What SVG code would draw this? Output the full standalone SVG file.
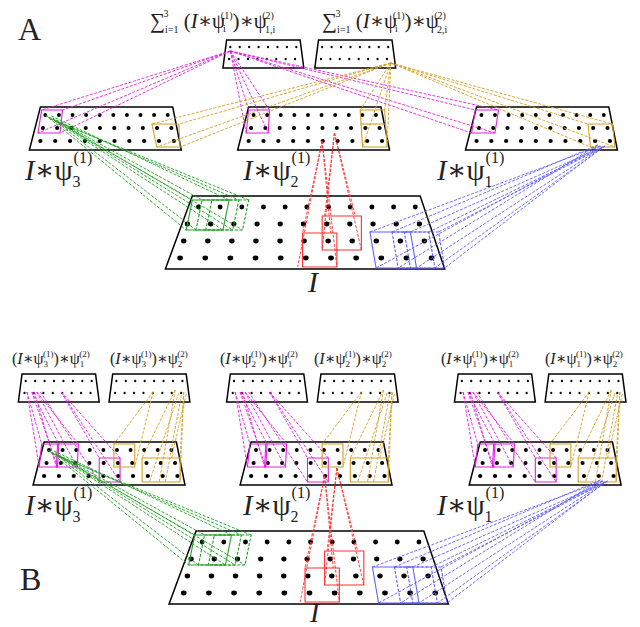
<svg xmlns="http://www.w3.org/2000/svg" xmlns:xlink="http://www.w3.org/1999/xlink" width="640" height="627" viewBox="0 0 640 627">
<style>
.tr{fill:#fff;stroke:#000;stroke-width:1.5;vector-effect:non-scaling-stroke}
.d{fill:#000}
.t{font-family:"Liberation Serif","DejaVu Serif",serif;fill:#222}
.c{fill:none;stroke-width:0.9;stroke-dasharray:3 1.5;vector-effect:non-scaling-stroke}
.m{stroke:#e020e0}.o{stroke:#d4a020}.g{stroke:#20a020}.r{stroke:#ff3030}.b{stroke:#6060ff}
.bx{fill:none;stroke-width:1.1;vector-effect:non-scaling-stroke}
</style>
<defs>
<g id="r8"><ellipse cx="0" cy="0" rx="0.9" ry="1.3" class="d"/><ellipse cx="7.7" cy="0" rx="0.9" ry="1.3" class="d"/><ellipse cx="15.4" cy="0" rx="0.9" ry="1.3" class="d"/><ellipse cx="23.1" cy="0" rx="0.9" ry="1.3" class="d"/><ellipse cx="30.8" cy="0" rx="0.9" ry="1.3" class="d"/><ellipse cx="38.5" cy="0" rx="0.9" ry="1.3" class="d"/><ellipse cx="46.2" cy="0" rx="0.9" ry="1.3" class="d"/><ellipse cx="53.9" cy="0" rx="0.9" ry="1.3" class="d"/></g>
<g id="r10"><ellipse cx="0" cy="0" rx="1.6" ry="2" class="d"/><ellipse cx="11.1" cy="0" rx="1.6" ry="2" class="d"/><ellipse cx="22.2" cy="0" rx="1.6" ry="2" class="d"/><ellipse cx="33.3" cy="0" rx="1.6" ry="2" class="d"/><ellipse cx="44.4" cy="0" rx="1.6" ry="2" class="d"/><ellipse cx="55.5" cy="0" rx="1.6" ry="2" class="d"/><ellipse cx="66.6" cy="0" rx="1.6" ry="2" class="d"/><ellipse cx="77.7" cy="0" rx="1.6" ry="2" class="d"/><ellipse cx="88.8" cy="0" rx="1.6" ry="2" class="d"/><ellipse cx="99.9" cy="0" rx="1.6" ry="2" class="d"/></g>
<g id="r11"><ellipse cx="0" cy="0" rx="2" ry="2.4" class="d"/><ellipse cx="17.7" cy="0" rx="2" ry="2.4" class="d"/><ellipse cx="35.4" cy="0" rx="2" ry="2.4" class="d"/><ellipse cx="53.1" cy="0" rx="2" ry="2.4" class="d"/><ellipse cx="70.8" cy="0" rx="2" ry="2.4" class="d"/><ellipse cx="88.5" cy="0" rx="2" ry="2.4" class="d"/><ellipse cx="106.2" cy="0" rx="2" ry="2.4" class="d"/><ellipse cx="123.9" cy="0" rx="2" ry="2.4" class="d"/><ellipse cx="141.6" cy="0" rx="2" ry="2.4" class="d"/><ellipse cx="159.3" cy="0" rx="2" ry="2.4" class="d"/><ellipse cx="177" cy="0" rx="2" ry="2.4" class="d"/></g>
<g id="top"><polygon class="tr" points="3,0 63,0 66,28 0,28"/><use xlink:href="#r8" x="6" y="7"/><use xlink:href="#r8" x="5" y="19"/></g>
<g id="mid"><polygon class="tr" points="9,0 117,0 124,43 0,43"/><use xlink:href="#r10" transform="translate(13,8)"/><use xlink:href="#r10" transform="translate(11,21) scale(1.05,1)"/><use xlink:href="#r10" transform="translate(9,34) scale(1.09,1)"/></g>
<g id="img"><polygon class="tr" points="22,0 208,0 228,73 0,73"/><use xlink:href="#r11" transform="translate(27,11)"/><use xlink:href="#r11" transform="translate(18,28) scale(1.07,1)"/><use xlink:href="#r11" transform="translate(15,45) scale(1.11,1)"/><use xlink:href="#r11" transform="translate(12,62) scale(1.16,1)"/></g>
<g id="lowc">
<polygon class="bx g" points="157,200 187,200 182,230 152,230"/>
<polygon class="bx g c" points="165,200 195,200 190,230 160,230"/>
<polygon class="bx g c" points="173,200 203,200 198,230 168,230"/>
<path class="c g" d="M37,115L157,200M40,118L152,230M42,116L187,200M44,120L182,230M39,117L195,200M46,121L190,230M41,119L203,200M48,122L198,230M43,118L165,200M45,121L160,230"/>
<polygon class="bx r" points="247,233 275,233 275,267 247,267"/>
<polygon class="bx r" points="263,216 295,216 295,250 263,250"/>
<path class="c r" d="M263,141L243,267M263,141L275,267M263,141L247,233M263,141L270,233M273,133L263,250M273,133L295,250M273,133L265,216M273,133L290,216"/>
<polygon class="bx b" points="302,232 335,232 340,268 307,268"/>
<polygon class="bx b c" points="320,232 350,232 355,268 325,268"/>
<polygon class="bx b c" points="330,232 358,232 363,268 335,268"/>
<path class="c b" d="M490,146L302,232M490,146L307,268M492,147L335,232M492,147L340,268M488,145L320,232M488,145L325,268M494,146L350,232M494,146L355,268M491,148L358,232M491,148L363,268"/>
</g>
<g id="bup">
<polygon class="bx m" points="34,444 48,444 47,467 32,467"/>
<polygon class="bx m" points="47,444 64,444 63,467 46,467"/>
<polygon class="bx m" points="81,458 98,458 98,482 81,482"/>
<polygon class="bx o" points="93,444 110,444 110,467 93,467"/>
<polygon class="bx o" points="116,458 147,458 147,482 116,482"/>
<path class="c m" d="M22,392L34,444M22,392L32,467M26,392L48,444M26,392L47,467M28,392L46,467M30,392L64,444M30,392L63,467M50,392L81,458M50,392L98,482M50,392L98,458M33,392L81,482"/>
<path class="c o" d="M125,392L93,444M125,392L110,467M143,390L116,458M143,390L130,482M150,392L147,458M150,392L147,482M148,395L135,482M152,394L140,458M146,393L122,482"/>
</g>
</defs>

<g transform="scale(1.225,1)">
<g id="A-top1"><use xlink:href="#top" x="182" y="40"/></g>
<g id="A-top2"><use xlink:href="#top" x="257" y="40"/></g>
<g id="A-mid3"><use xlink:href="#mid" x="24" y="107"/></g>
<g id="A-mid2"><use xlink:href="#mid" x="194" y="107"/></g>
<g id="A-mid1"><use xlink:href="#mid" x="380" y="107"/></g>
<g id="A-I"><use xlink:href="#img" x="135" y="196"/></g>

<g id="A-conn">
<polygon class="bx m" points="34,110 51,110 49,133 31,133"/>
<polygon class="bx m" points="203,110 220,110 219,133 201,133"/>
<polygon class="bx m" points="388,110 407,110 404,133 385,133"/>
<path class="c m" d="M188,51L34,110M188,51L51,110M188,51L31,133M188,51L49,133M188,51L203,110M188,51L220,110M188,51L201,133M188,51L219,133M188,51L388,110M188,51L407,110M188,51L385,133M188,51L404,133"/>
<polygon class="bx o" points="124,124 146,124 147,147 128,147"/>
<polygon class="bx o" points="294,110 314,110 316,147 296,147"/>
<line class="bx o" x1="294" y1="124" x2="315" y2="124"/>
<polygon class="bx o" points="480,124 500,124 502,147 482,147"/>
<path class="c o" d="M319,63L124,124M319,63L146,124M319,63L128,147M319,63L147,147M319,63L294,110M319,63L314,110M319,63L296,147M319,63L316,147M319,63L480,124M319,63L500,124M319,63L482,147M319,63L502,147"/>
<use xlink:href="#lowc"/>
</g>

<g id="B-tops">
<use xlink:href="#top" x="15" y="374"/><use xlink:href="#top" x="89" y="374"/>
<use xlink:href="#top" x="185" y="374"/><use xlink:href="#top" x="259" y="374"/>
<use xlink:href="#top" x="371" y="374"/><use xlink:href="#top" x="445" y="374"/>
</g>
<g id="B-mid3"><use xlink:href="#mid" x="27" y="442"/></g>
<g id="B-mid2"><use xlink:href="#mid" x="196" y="442"/></g>
<g id="B-mid1"><use xlink:href="#mid" x="383" y="442"/></g>
<g id="B-I"><use xlink:href="#img" x="138" y="531"/></g>
<g id="B-conn">
<use xlink:href="#bup"/>
<use xlink:href="#bup" x="170"/>
<use xlink:href="#bup" x="356"/>
<use xlink:href="#lowc" x="2" y="335"/>
</g>
</g>

<g id="labels" class="t">
<text x="18" y="40" font-size="32">A</text>
<text x="20" y="590" font-size="32">B</text>
<text x="150" y="28" font-size="21">∑<tspan font-size="10" dy="5">i=1</tspan><tspan font-size="10" dx="-15" dy="-16">3</tspan><tspan dx="10" dy="11"> (</tspan><tspan font-style="italic">I</tspan>∗ψ<tspan font-size="10" dx="-2" dy="4">i</tspan><tspan font-size="10" dx="-5" dy="-13">(1)</tspan><tspan dy="9">)∗ψ</tspan><tspan font-size="10" dx="-2" dy="5">1,i</tspan><tspan font-size="10" dx="-13" dy="-14">(2)</tspan></text>
<text x="322" y="28" font-size="21">∑<tspan font-size="10" dy="5">i=1</tspan><tspan font-size="10" dx="-15" dy="-16">3</tspan><tspan dx="10" dy="11"> (</tspan><tspan font-style="italic">I</tspan>∗ψ<tspan font-size="10" dx="-2" dy="4">i</tspan><tspan font-size="10" dx="-5" dy="-13">(1)</tspan><tspan dy="9">)∗ψ</tspan><tspan font-size="10" dx="-2" dy="5">2,i</tspan><tspan font-size="10" dx="-13" dy="-14">(2)</tspan></text>
<text x="25" y="180" font-size="29"><tspan font-style="italic">I</tspan>∗ψ<tspan font-size="16" dy="7">3</tspan><tspan font-size="16" dx="-7" dy="-24">(1)</tspan></text>
<text x="243" y="180" font-size="29"><tspan font-style="italic">I</tspan>∗ψ<tspan font-size="16" dy="7">2</tspan><tspan font-size="16" dx="-7" dy="-24">(1)</tspan></text>
<text x="437" y="180" font-size="29"><tspan font-style="italic">I</tspan>∗ψ<tspan font-size="16" dy="7">1</tspan><tspan font-size="16" dx="-7" dy="-24">(1)</tspan></text>
<text x="308" y="292" font-size="30" font-style="italic">I</text>
<text x="25" y="515" font-size="29"><tspan font-style="italic">I</tspan>∗ψ<tspan font-size="16" dy="7">3</tspan><tspan font-size="16" dx="-7" dy="-24">(1)</tspan></text>
<text x="243" y="515" font-size="29"><tspan font-style="italic">I</tspan>∗ψ<tspan font-size="16" dy="7">2</tspan><tspan font-size="16" dx="-7" dy="-24">(1)</tspan></text>
<text x="437" y="515" font-size="29"><tspan font-style="italic">I</tspan>∗ψ<tspan font-size="16" dy="7">1</tspan><tspan font-size="16" dx="-7" dy="-24">(1)</tspan></text>
<text x="310" y="622" font-size="28" font-style="italic">I</text>
<text x="12" y="364" font-size="16">(<tspan font-style="italic">I</tspan>∗ψ<tspan font-size="9" dy="3">3</tspan><tspan font-size="9" dx="-5" dy="-10">(1)</tspan><tspan dy="7">)∗ψ</tspan><tspan font-size="9" dy="3">1</tspan><tspan font-size="9" dx="-5" dy="-10">(2)</tspan></text>
<text x="110" y="364" font-size="16">(<tspan font-style="italic">I</tspan>∗ψ<tspan font-size="9" dy="3">3</tspan><tspan font-size="9" dx="-5" dy="-10">(1)</tspan><tspan dy="7">)∗ψ</tspan><tspan font-size="9" dy="3">2</tspan><tspan font-size="9" dx="-5" dy="-10">(2)</tspan></text>
<text x="220" y="364" font-size="16">(<tspan font-style="italic">I</tspan>∗ψ<tspan font-size="9" dy="3">2</tspan><tspan font-size="9" dx="-5" dy="-10">(1)</tspan><tspan dy="7">)∗ψ</tspan><tspan font-size="9" dy="3">1</tspan><tspan font-size="9" dx="-5" dy="-10">(2)</tspan></text>
<text x="314" y="364" font-size="16">(<tspan font-style="italic">I</tspan>∗ψ<tspan font-size="9" dy="3">2</tspan><tspan font-size="9" dx="-5" dy="-10">(1)</tspan><tspan dy="7">)∗ψ</tspan><tspan font-size="9" dy="3">2</tspan><tspan font-size="9" dx="-5" dy="-10">(2)</tspan></text>
<text x="441" y="364" font-size="16">(<tspan font-style="italic">I</tspan>∗ψ<tspan font-size="9" dy="3">1</tspan><tspan font-size="9" dx="-5" dy="-10">(1)</tspan><tspan dy="7">)∗ψ</tspan><tspan font-size="9" dy="3">1</tspan><tspan font-size="9" dx="-5" dy="-10">(2)</tspan></text>
<text x="545" y="364" font-size="16">(<tspan font-style="italic">I</tspan>∗ψ<tspan font-size="9" dy="3">1</tspan><tspan font-size="9" dx="-5" dy="-10">(1)</tspan><tspan dy="7">)∗ψ</tspan><tspan font-size="9" dy="3">2</tspan><tspan font-size="9" dx="-5" dy="-10">(2)</tspan></text>
</g>
</svg>
